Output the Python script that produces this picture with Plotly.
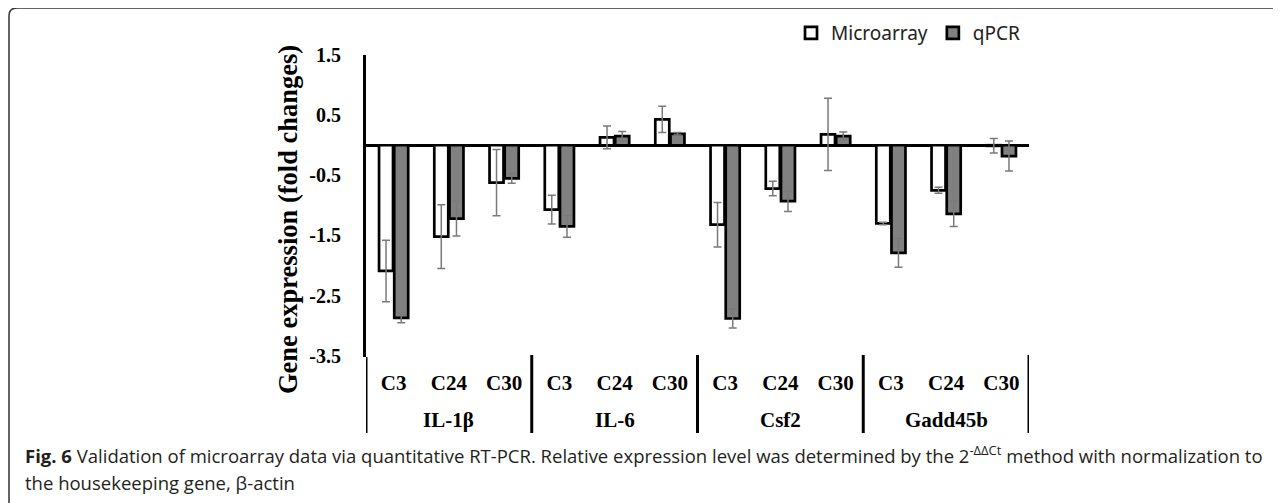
import plotly.graph_objects as go

# ---- data ----
groups = ["IL-1β", "IL-6", "Csf2", "Gadd45b"]
cats = ["C3", "C24", "C30"]
micro = [-2.09, -1.52, -0.62, -1.07, 0.13, 0.43, -1.32, -0.72, 0.18, -1.30, -0.75, -0.01]
micro_err = [0.51, 0.53, 0.55, 0.24, 0.19, 0.22, 0.37, 0.12, 0.60, 0.02, 0.05, 0.12]
qpcr = [-2.87, -1.22, -0.55, -1.35, 0.15, 0.19, -2.88, -0.93, 0.15, -1.79, -1.14, -0.18]
qpcr_err = [0.08, 0.29, 0.08, 0.18, 0.08, 0.02, 0.16, 0.17, 0.07, 0.24, 0.21, 0.25]
ytick_vals = [-3.5, -2.5, -1.5, -0.5, 0.5, 1.5]
ytick_text = ["-3.5", "-2.5", "-1.5", "-0.5", "0.5", "1.5"]

n_c = len(cats)
xi = list(range(len(groups) * n_c))
xlabels = [c for _ in groups for c in cats]

SERIF = "Liberation Serif"
err_style = dict(type="data", visible=True, color="#7a7a7a", thickness=1.5, width=4)

fig = go.Figure()
fig.add_trace(go.Bar(
    name="Microarray", x=xi, y=micro,
    error_y=dict(array=micro_err, **err_style),
    marker=dict(color="white", line=dict(color="black", width=2.7)),
))
fig.add_trace(go.Bar(
    name="qPCR", x=xi, y=qpcr,
    error_y=dict(array=qpcr_err, **err_style),
    marker=dict(color="#808080", line=dict(color="black", width=2.7)),
))

# page body has an 8px margin: target screen pixels are converted to figure pixels
OFF = 8
W, H = 1281 - OFF, 503 - OFF
L, T, R, B = 366 - OFF, 55 - OFF, 1029 - OFF, 357 - OFF

def px(x):
    return (x - OFF - L) / (R - L)

def py(y):
    return (B - (y - OFF)) / (B - T)

fig.update_layout(
    width=W, height=H,
    margin=dict(l=L, r=W - R, t=T, b=H - B, autoexpand=False),
    paper_bgcolor="white", plot_bgcolor="white",
    barmode="group", bargap=0.45, bargroupgap=0.08,
    showlegend=True,
    legend=dict(orientation="h", x=px(1026), xanchor="right", y=py(33), yanchor="middle",
                font=dict(family="Noto Sans", size=19, color="#222"),
                itemwidth=30, traceorder="normal", bgcolor="rgba(0,0,0,0)"),
    xaxis=dict(range=[-0.5, len(xi) - 0.5], tickvals=xi, ticktext=xlabels,
               tickfont=dict(family=SERIF, size=21, color="black", weight="bold"),
               showline=False, ticks="", showgrid=False, zeroline=False,
               ticklabelstandoff=11),
    yaxis=dict(range=[-3.52, 1.5], tickvals=ytick_vals, ticktext=ytick_text,
               tickfont=dict(family=SERIF, size=20, color="black", weight="bold"),
               showline=True, linecolor="black", linewidth=3, ticks="",
               ticklabelstandoff=18, showgrid=False,
               zeroline=True, zerolinecolor="black", zerolinewidth=3),
    font=dict(family=SERIF),
)

# group labels and dividers below the axis
for gi, g in enumerate(groups):
    fig.add_annotation(text=g, xref="x", yref="paper", x=gi * n_c + (n_c - 1) / 2, y=py(420),
                       xanchor="center", yanchor="middle", showarrow=False,
                       font=dict(family=SERIF, size=21, color="black", weight="bold"))
for k in range(len(groups) + 1):
    xb = k * n_c - 0.5
    y_top = py(357) if k == 0 else py(355)
    fig.add_shape(type="line", xref="x", yref="paper", x0=xb, x1=xb, y0=y_top, y1=py(433),
                  line=dict(color="black", width=3))

# y-axis title
fig.add_annotation(text="Gene expression (fold changes)", textangle=-90,
                   xref="paper", yref="paper", x=px(288), y=py(220),
                   xanchor="center", yanchor="middle", showarrow=False,
                   font=dict(family=SERIF, size=26.5, color="black", weight="bold"))

# caption
cap_font = dict(family="Open Sans", size=18.5, color="#231f20")
fig.add_annotation(
    text="<b>Fig. 6</b> Validation of microarray data via quantitative RT-PCR. Relative expression level was determined by the 2<sup>-ΔΔCt</sup> method with normalization to",
    xref="paper", yref="paper", x=px(23), y=py(470), xanchor="left", yanchor="bottom",
    showarrow=False, font=cap_font)
fig.add_annotation(
    text="the housekeeping gene, β-actin",
    xref="paper", yref="paper", x=px(23), y=py(482), xanchor="left", yanchor="middle",
    showarrow=False, font=cap_font)

# rounded frame (cropped at right/bottom)
rr = 8
path = (f"M {px(9)},{py(8 + rr)} Q {px(9)},{py(8)} {px(9 + rr)},{py(8)} "
        f"L {px(1320)},{py(8)} M {px(9)},{py(8 + rr)} L {px(9)},{py(540)}")
fig.add_shape(type="path", path=path, xref="paper", yref="paper",
              line=dict(color="#333", width=1.5), layer="above")

fig.write_html("out.html")
